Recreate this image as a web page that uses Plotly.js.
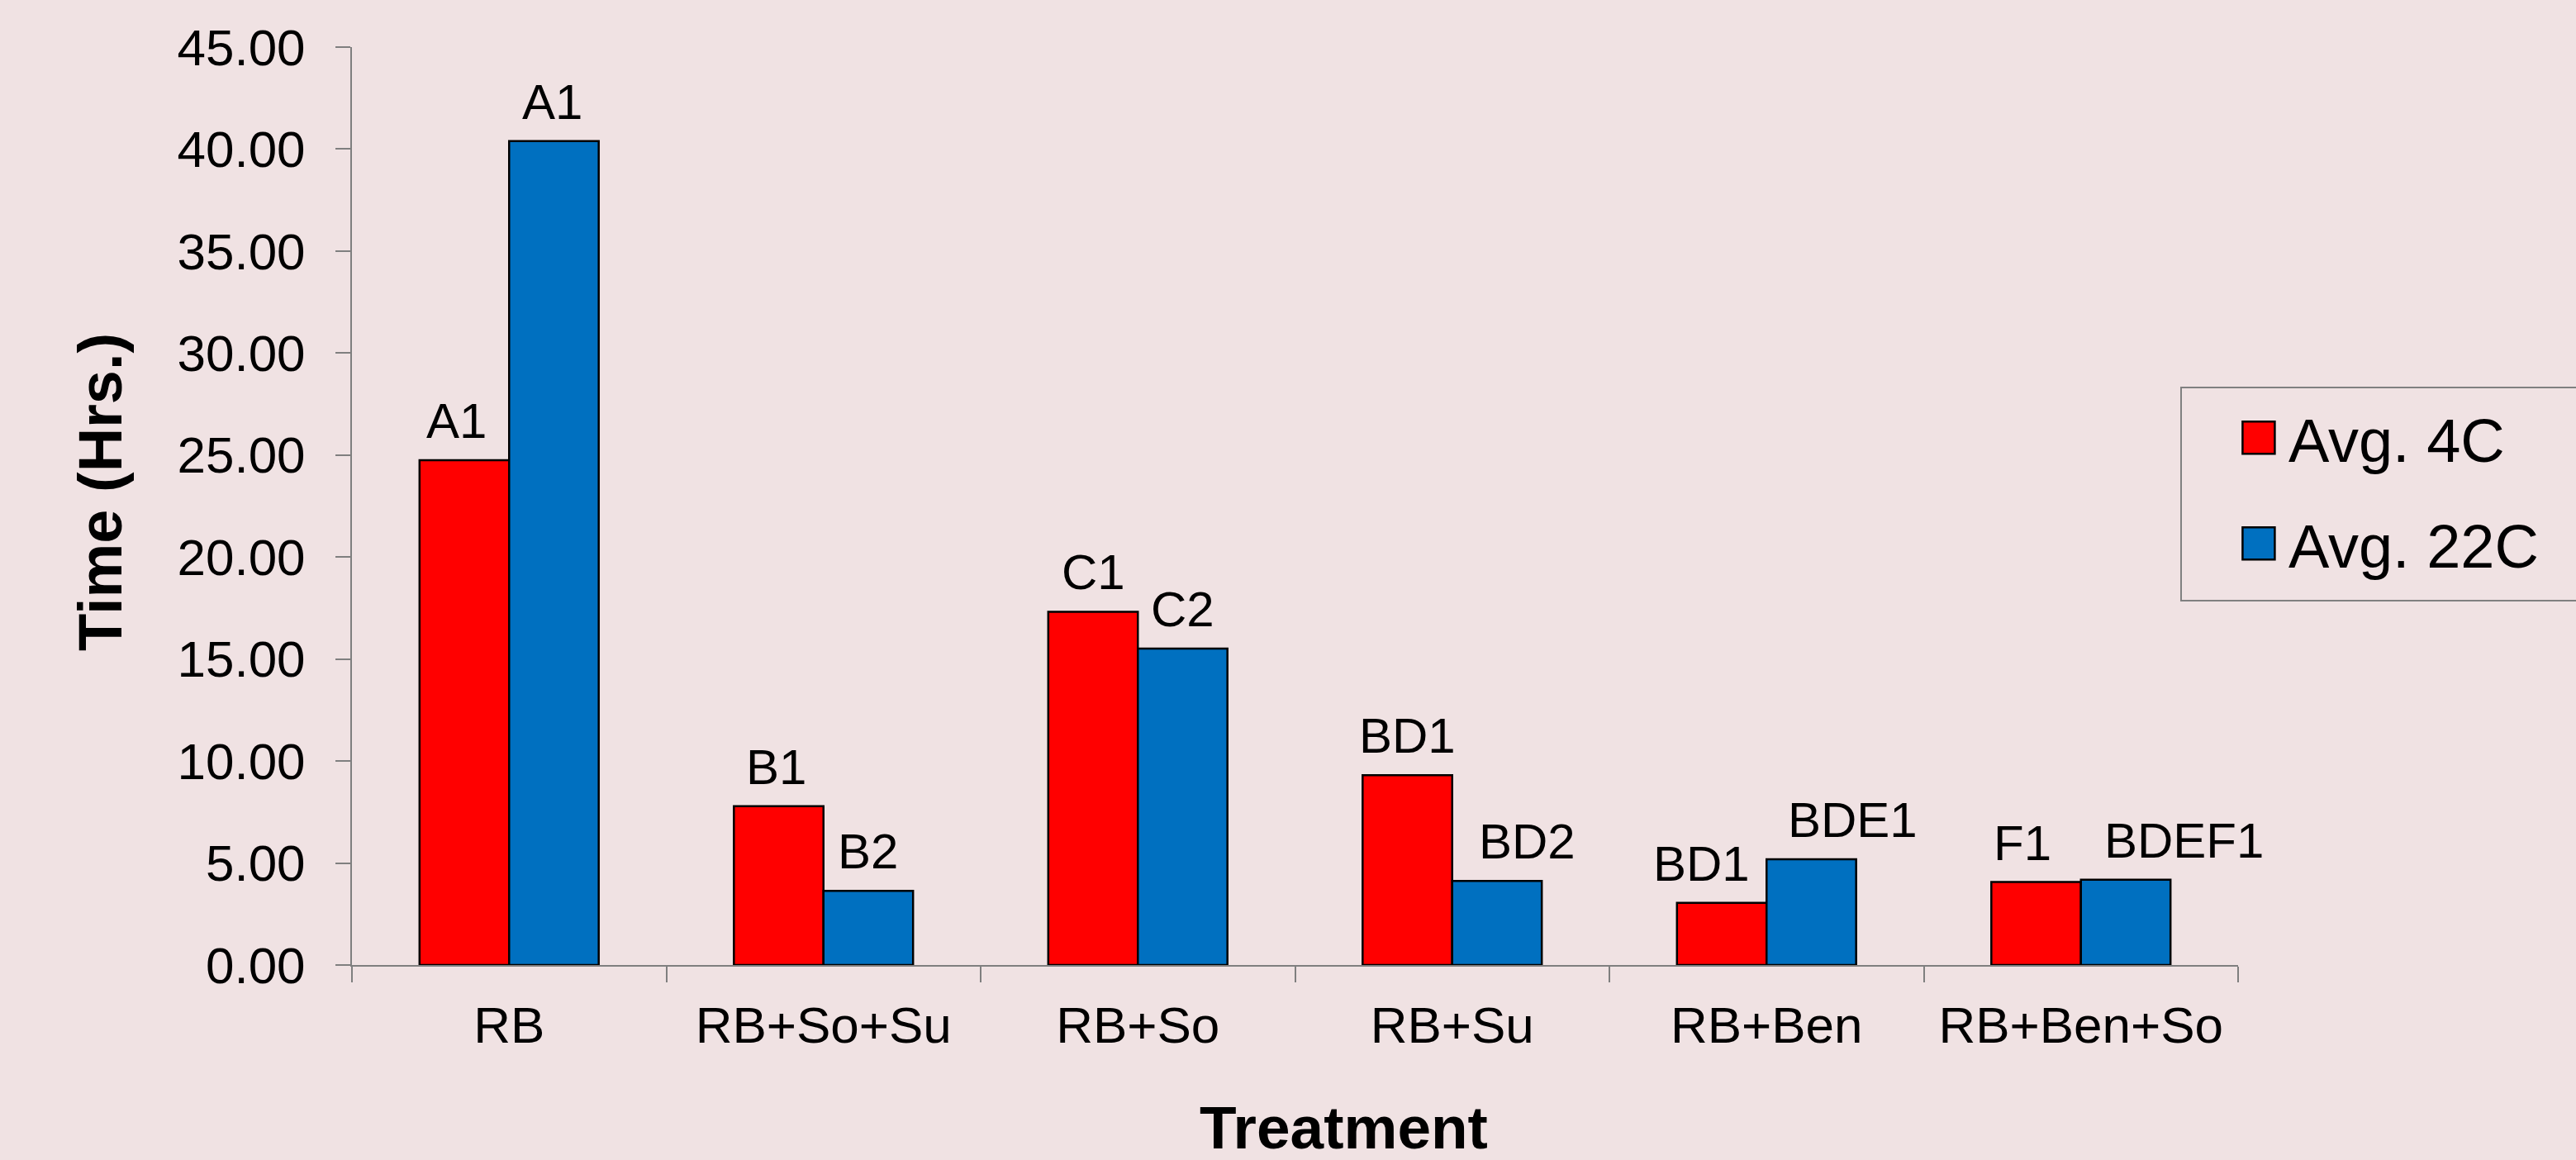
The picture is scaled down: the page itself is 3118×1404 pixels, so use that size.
<!DOCTYPE html>
<html>
<head>
<meta charset="utf-8">
<script src="https://cdn.plot.ly/plotly-3.0.1.min.js"></script>
<style>
  html, body { margin: 0; padding: 0; background: #f0e2e3; }
  #chart { width: 3118px; height: 1404px; }
</style>
</head>
<body>
<div id="chart"></div>
<script>
// ---- data ----
var categories = ['RB', 'RB+So+Su', 'RB+So', 'RB+Su', 'RB+Ben', 'RB+Ben+So'];
var avg4C  = [24.75, 7.79, 17.32, 9.31, 3.05, 4.07];
var avg22C = [40.39, 3.64, 15.51, 4.12, 5.18, 4.18];
var labels4C  = ['A1', 'B1', 'C1', 'BD1', 'BD1', 'F1'];
var labels22C = ['A1', 'B2', 'C2', 'BD2', 'BDE1', 'BDEF1'];
var seriesNames = ['Avg. 4C', 'Avg. 22C'];
var xTitle = 'Treatment';
var yTitle = 'Time (Hrs.)';

// ---- styles ----
var FONT = 'Liberation Sans, Arial, Helvetica, sans-serif';
var BG = '#f0e2e3';
var AXIS = '#7f7f7f';
var BARGAP = 0.43;
// small horizontal nudges (px) of the letter labels, as placed in the reference
var nudge4C  = [-10, -3, 0, 0, -25, -17];
var nudge22C = [-2, 0, 0, 37, 50, 71];

var data = [
  {
    type: 'bar', name: seriesNames[0], x: categories, y: avg4C,
    marker: { color: '#ff0000', line: { color: '#000000', width: 2.5 } },
    legendgroup: 'g1', hoverinfo: 'none'
  },
  {
    type: 'bar', name: seriesNames[1], x: categories, y: avg22C,
    marker: { color: '#0070c0', line: { color: '#000000', width: 2.5 } },
    legendgroup: 'g2', hoverinfo: 'none'
  }
];

// letter labels above each bar, positioned from the data through the axes
var half = (1 - BARGAP) / 4;
var labelFont = { family: FONT, size: 60, color: '#000' };
var annotations = [];
categories.forEach(function (c, i) {
  annotations.push({
    xref: 'x', yref: 'y', x: i - half, y: avg4C[i], text: labels4C[i],
    showarrow: false, xanchor: 'center', yanchor: 'bottom', yshift: 12, xshift: nudge4C[i],
    font: labelFont
  });
  annotations.push({
    xref: 'x', yref: 'y', x: i + half, y: avg22C[i], text: labels22C[i],
    showarrow: false, xanchor: 'center', yanchor: 'bottom', yshift: 12, xshift: nudge22C[i],
    font: labelFont
  });
});
// axis titles
annotations.push({
  xref: 'paper', yref: 'paper', x: 0.5258, y: -0.177, xanchor: 'center', yanchor: 'middle',
  text: xTitle, showarrow: false,
  font: { family: FONT, size: 73, color: '#000', weight: 'bold' }
});
annotations.push({
  xref: 'paper', yref: 'paper', x: -0.1334, y: 0.5153, xanchor: 'center', yanchor: 'middle',
  text: yTitle, textangle: -90, showarrow: false,
  font: { family: FONT, size: 74, color: '#000', weight: 'bold' }
});

var layout = {
  width: 3118, height: 1404,
  paper_bgcolor: BG, plot_bgcolor: BG,
  margin: { l: 426, r: 409, t: 57, b: 236, autoexpand: false },
  font: { family: FONT, color: '#000' },
  barmode: 'group', bargap: BARGAP, bargroupgap: 0,
  showlegend: true,
  legend: {
    x: 0.9693, y: 0.630, xanchor: 'left', yanchor: 'top',
    bgcolor: BG, bordercolor: '#808080', borderwidth: 2,
    font: { family: FONT, size: 74, color: '#000' },
    itemwidth: 119,
    tracegroupgap: 29, itemclick: false, itemdoubleclick: false
  },
  xaxis: {
    type: 'category',
    range: [-0.5, categories.length - 0.5], autorange: false,
    showline: true, linecolor: AXIS, linewidth: 2,
    ticks: 'outside', tickson: 'boundaries', ticklen: 19, tickwidth: 2, tickcolor: AXIS,
    showgrid: false, zeroline: false,
    tickfont: { family: FONT, size: 62, color: '#000' },
    ticklabelstandoff: 18,
    fixedrange: true
  },
  yaxis: {
    range: [0, 45], autorange: false, dtick: 5, tick0: 0, tickformat: '.2f',
    showline: true, linecolor: AXIS, linewidth: 2,
    ticks: 'outside', ticklen: 18, tickwidth: 2, tickcolor: AXIS,
    showgrid: false, zeroline: false,
    tickfont: { family: FONT, size: 62, color: '#000' },
    ticklabelstandoff: 24,
    fixedrange: true
  },
  annotations: annotations
};

Plotly.newPlot('chart', data, layout, { staticPlot: true, displayModeBar: false }).then(function () {
  var bg = document.querySelector('.legend rect.bg');
  if (!bg) return;
  var bgBox = bg.getBoundingClientRect();
  // enlarge legend swatches to the reference's square keys, centred 94px inside the frame
  document.querySelectorAll('.legend .legendpoints path').forEach(function (p) {
    var r = p.getBoundingClientRect();
    var cx = (r.left + r.right) / 2;
    var dx = (bgBox.left + 94) - cx;
    var h = 19.5;
    p.setAttribute('d', 'M' + (dx + h) + ',' + h + 'H' + (dx - h) + 'V' + (-h) + 'H' + (dx + h) + 'Z');
  });
  // taller frame running off the right edge, entries moved down slightly
  var hgt = parseFloat(bg.getAttribute('height')) + 18;
  bg.setAttribute('height', hgt);
  bg.setAttribute('width', '600');
  document.querySelectorAll('clipPath rect').forEach(function (r) {
    var cp = r.parentNode;
    if (cp && cp.id && cp.id.indexOf('legend') >= 0) {
      r.setAttribute('width', '600');
      r.setAttribute('height', hgt);
    }
  });
  document.querySelectorAll('.legend .traces').forEach(function (t) {
    var m = /translate\(\s*([-\d.e]+)[\s,]+([-\d.e]+)\s*\)/.exec(t.getAttribute('transform') || '');
    var x = m ? +m[1] : 0, y = m ? +m[2] : 0;
    t.setAttribute('transform', 'translate(' + x + ',' + (y + 5) + ')');
  });
});
</script>
</body>
</html>
